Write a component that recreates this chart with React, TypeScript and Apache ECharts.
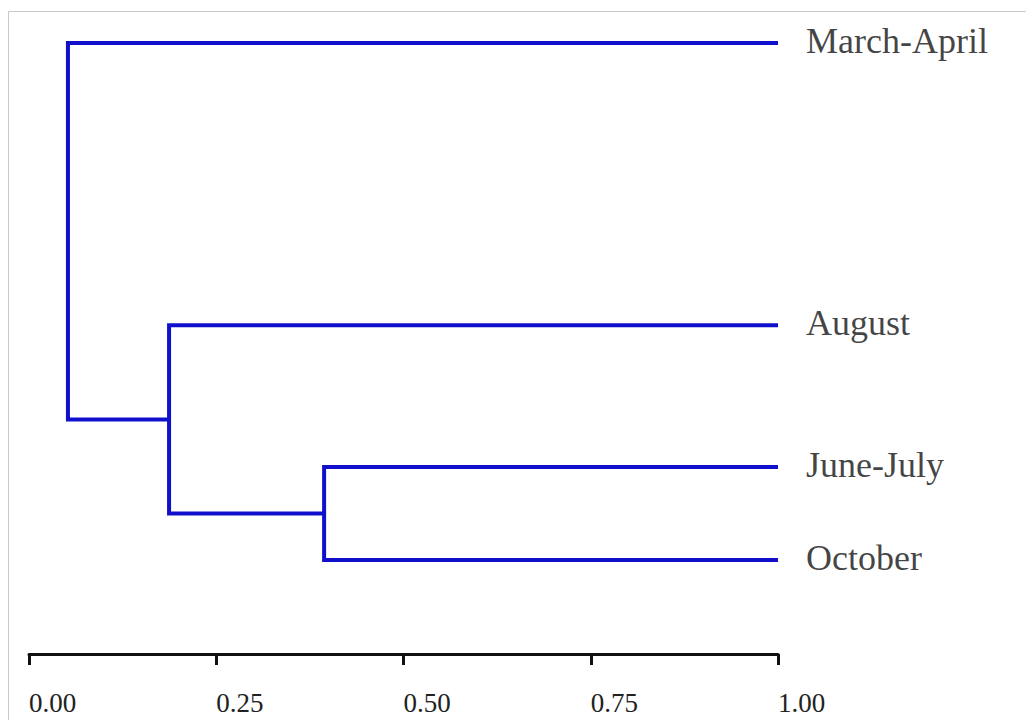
import React, { useEffect, useRef } from "react";
import * as echarts from "echarts";

// Leaves (top to bottom) and their vertical positions on a hidden 0-100 axis
const leafNames = ["March-April", "August", "June-July", "October"];
const leafPositions = [100, 53.8, 30.6, 15.4];
const leafDistance = 1.0;

// Linkage (scipy-like): merge of cluster a and b at distance h; new cluster ids start at leafNames.length
const mergeA = [2, 1, 0];
const mergeB = [3, 4, 5];
const mergeHeights = [0.394, 0.187, 0.052];

const xTicks = [0, 0.25, 0.5, 0.75, 1.0];

const BLUE = "#1010cc";

export default function App() {
  const ref = useRef<HTMLDivElement>(null);

  useEffect(() => {
    if (!ref.current) return;
    const chart = echarts.init(ref.current, null, { renderer: "svg" });

    const nodeX: number[] = leafNames.map(() => leafDistance);
    const nodeY: number[] = leafPositions.slice();
    const segmentSeries: any[] = [];
    mergeA.forEach((a, i) => {
      const b = mergeB[i];
      const h = mergeHeights[i];
      segmentSeries.push({
        type: "line",
        data: [
          [nodeX[a], nodeY[a]],
          [h, nodeY[a]],
          [h, nodeY[b]],
          [nodeX[b], nodeY[b]],
        ],
        symbol: "none",
        silent: true,
        lineStyle: { color: BLUE, width: 4, join: "miter", cap: "butt" },
        z: 2,
      });
      nodeX.push(h);
      nodeY.push((nodeY[a] + nodeY[b]) / 2);
    });

    chart.setOption({
      animation: false,
      backgroundColor: "#ffffff",
      grid: { left: 29, right: 248, top: 43, bottom: 66, containLabel: false },
      xAxis: {
        type: "value",
        min: xTicks[0],
        max: xTicks[xTicks.length - 1],
        interval: 0.25,
        axisLine: { show: true, onZero: false, lineStyle: { color: "#111", width: 3 } },
        axisTick: { show: true, length: 11, lineStyle: { color: "#111", width: 3 } },
        axisLabel: {
          show: true,
          margin: 35,
          align: "left",
          verticalAlign: "top",
          fontFamily: "Liberation Serif",
          fontSize: 27,
          color: "#222",
          formatter: (v: number) => v.toFixed(2),
        },
        splitLine: { show: false },
      },
      yAxis: {
        type: "value",
        min: 0,
        max: 100,
        show: false,
        splitLine: { show: false },
      },
      graphic: [
        {
          type: "rect",
          shape: { x: 8.5, y: 11.5, width: 1100, height: 800 },
          style: { fill: "none", stroke: "#c8c8c8", lineWidth: 1 },
          silent: true,
          z: -1,
        },
      ],
      series: [
        ...segmentSeries,
        {
          type: "scatter",
          data: leafNames.map((n, i) => ({ name: n, value: [leafDistance, leafPositions[i]] })),
          symbolSize: 0,
          silent: true,
          label: {
            show: true,
            position: "right",
            distance: 28,
            formatter: (p: any) => p.name,
            fontFamily: "Liberation Serif",
            fontSize: 36,
            color: "#111",
            offset: [0, -2],
          },
        },
      ],
    });

    return () => chart.dispose();
  }, []);

  return (
    <div
      ref={ref}
      style={{ position: "fixed", left: 0, top: 0, width: 1026, height: 720, background: "#fff" }}
    />
  );
}
